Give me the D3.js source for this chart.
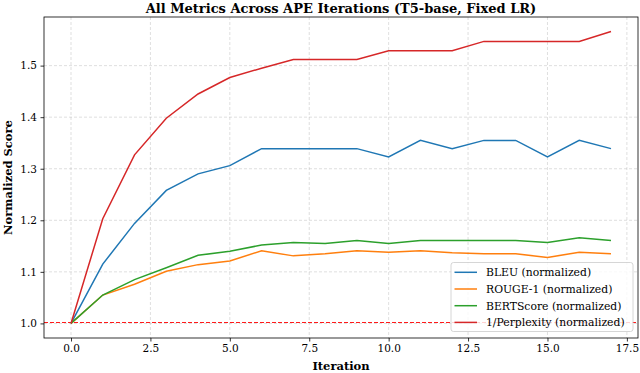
<!DOCTYPE html>
<html><head><meta charset="utf-8">
<script src="https://cdn.jsdelivr.net/npm/d3@7"></script>
<style>body{margin:0;background:#fff}svg{display:block}text{font-family:"DejaVu Serif",serif}</style>
</head><body><svg id="c" width="640" height="373"></svg>
<script>
const iterations = [0,1,2,3,4,5,6,7,8,9,10,11,12,13,14,15,16,17];
const bleu = [1.0,1.115,1.194,1.258,1.290,1.306,1.339,1.339,1.339,1.339,1.323,1.355,1.339,1.355,1.355,1.323,1.355,1.339];
const rouge1 = [1.0,1.055,1.076,1.101,1.114,1.121,1.141,1.131,1.135,1.141,1.138,1.141,1.137,1.135,1.135,1.128,1.138,1.135];
const bertscore = [1.0,1.055,1.085,1.108,1.132,1.140,1.152,1.157,1.155,1.161,1.155,1.161,1.161,1.161,1.161,1.157,1.166,1.161];
const invPerplexity = [1.0,1.203,1.327,1.398,1.445,1.477,1.495,1.512,1.512,1.512,1.529,1.529,1.529,1.547,1.547,1.547,1.547,1.566];
const seriesNames = ["BLEU (normalized)","ROUGE-1 (normalized)","BERTScore (normalized)","1/Perplexity (normalized)"];
const seriesColors = ["#1f77b4","#ff7f0e","#2ca02c","#d62728"];
const xTicks = [0,2.5,5,7.5,10,12.5,15,17.5];
const yTicks = [1.0,1.1,1.2,1.3,1.4,1.5];
const titleText = "All Metrics Across APE Iterations (T5-base, Fixed LR)";

const svg = d3.select("#c");
const L=44,R=638,T=17,B=338;
const allSeries=[bleu,rouge1,bertscore,invPerplexity];
const ymin=d3.min(allSeries.flat()), ymax=d3.max(allSeries.flat());
const ym=(ymax-ymin)*0.05;
const xm=(d3.max(iterations)-d3.min(iterations))*0.05;
const x=d3.scaleLinear().domain([d3.min(iterations)-xm,d3.max(iterations)+xm]).range([L,R]);
const y=d3.scaleLinear().domain([ymin-ym,ymax+ym]).range([B,T]);

// grid
const g=svg.append("g");
g.selectAll(".gx").data(xTicks).join("line").attr("x1",d=>x(d)).attr("x2",d=>x(d)).attr("y1",T).attr("y2",B)
 .attr("stroke","#b0b0b0").attr("stroke-opacity",0.5).attr("stroke-dasharray","3,2").attr("stroke-width",0.8);
g.selectAll(".gy").data(yTicks).join("line").attr("y1",d=>y(d)).attr("y2",d=>y(d)).attr("x1",L).attr("x2",R)
 .attr("stroke","#b0b0b0").attr("stroke-opacity",0.5).attr("stroke-dasharray","3,2").attr("stroke-width",0.8);

// baseline
const by=Math.round(y(1.0))-0.5;
svg.append("line").attr("x1",L).attr("x2",R).attr("y1",by).attr("y2",by)
 .attr("stroke","#ff1a1a").attr("stroke-width",1).attr("stroke-dasharray","4,2").attr("shape-rendering","crispEdges");

const line=d3.line().x((d,i)=>x(iterations[i])).y(d=>y(d));
allSeries.forEach((s,k)=>{
  svg.append("path").datum(s).attr("d",line).attr("fill","none").attr("stroke",seriesColors[k]).attr("stroke-width",1.5);
});

// axes
const xa=svg.append("g").attr("transform",`translate(0,${B})`).call(d3.axisBottom(x).tickValues(xTicks).tickFormat(d3.format(".1f")).tickSizeOuter(0).tickSize(3.5).tickPadding(3.5));
const ya=svg.append("g").attr("transform",`translate(${L},0)`).call(d3.axisLeft(y).tickValues(yTicks).tickFormat(d3.format(".1f")).tickSizeOuter(0).tickSize(3.5).tickPadding(3.5));
[xa,ya].forEach(a=>{a.select(".domain").remove();a.selectAll("text").attr("font-size",10.5).attr("fill","#000").attr("font-family","DejaVu Serif");a.selectAll("line").attr("stroke","#000").attr("stroke-width",0.8);});
svg.append("rect").attr("x",L).attr("y",T).attr("width",R-L).attr("height",B-T).attr("fill","none").attr("stroke","#000").attr("stroke-width",0.8);

// titles
svg.append("text").attr("x",(L+R)/2).attr("y",13).attr("text-anchor","middle").attr("font-size",13).attr("font-weight","bold").text(titleText);
svg.append("text").attr("x",(L+R)/2).attr("y",370).attr("text-anchor","middle").attr("font-size",11.5).attr("font-weight","bold").text("Iteration");
svg.append("text").attr("transform",`translate(12,${(T+B)/2}) rotate(-90)`).attr("text-anchor","middle").attr("font-size",11.5).attr("font-weight","bold").text("Normalized Score");

// legend
const lg=svg.append("g");
lg.append("rect").attr("x",451).attr("y",262.5).attr("width",182).attr("height",69).attr("rx",2.5)
 .attr("fill","#fff").attr("fill-opacity",0.8).attr("stroke","#ccc").attr("stroke-width",0.8);
seriesNames.forEach((n,k)=>{
  const yy=272.3+k*16.7;
  lg.append("line").attr("x1",454.5).attr("x2",477).attr("y1",yy).attr("y2",yy).attr("stroke",seriesColors[k]).attr("stroke-width",1.5);
  lg.append("text").attr("x",486).attr("y",yy+3.8).attr("font-size",10.8).text(n);
});
</script></body></html>
